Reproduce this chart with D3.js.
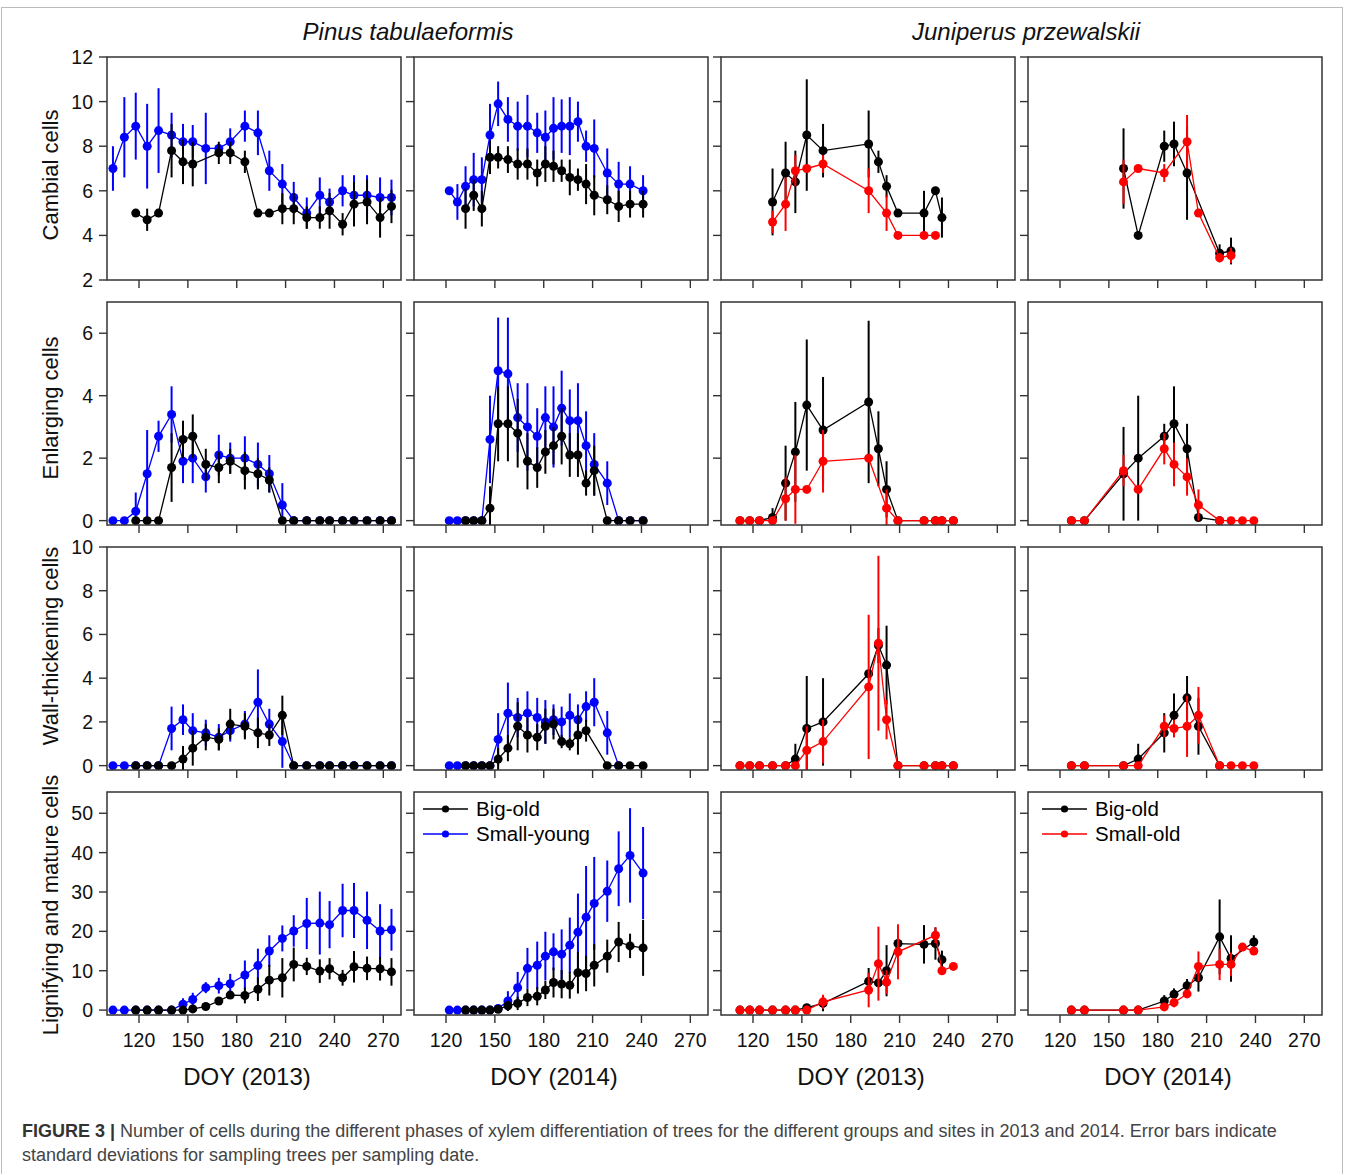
<!DOCTYPE html>
<html>
<head>
<meta charset="utf-8">
<script src="https://cdn.jsdelivr.net/npm/d3@7"></script>
<style>
  body { margin: 0; background: #fff; }
  text { font-family: "Liberation Sans", Arial, sans-serif; }
</style>
</head>
<body>
<svg id="chart" width="1357" height="1174"></svg>
<script>
// each row: [DOY, mean, sd]
// --- Cambial cells ---
var cambP13Big = [[118,5.0,0],[125,4.7,0.5],[132,5.0,0],[140,7.8,1.2],[147,7.3,1.0],[153,7.2,1.0],[169,7.7,0.5],[176,7.7,0.5],[185,7.3,0.5],[193,5.0,0],[200,5.0,0],[208,5.2,0.7],[215,5.2,0.7],[223,4.8,0.5],[231,4.8,0.5],[237,5.1,0.8],[245,4.5,0.5],[252,5.4,1.0],[260,5.5,1.0],[268,4.8,0.9],[275,5.3,0.75]];
var cambP13Small = [[104,7.0,1.0],[111,8.4,1.8],[118,8.9,1.5],[125,8.0,1.9],[132,8.7,1.9],[140,8.5,1.0],[147,8.2,0.8],[153,8.2,0.75],[161,7.9,1.6],[169,7.9,0.2],[176,8.2,0.6],[185,8.9,0.7],[193,8.6,1.0],[200,6.9,0.9],[208,6.3,0.9],[215,5.7,0.7],[223,5.0,0.7],[231,5.8,0.8],[237,5.5,0.6],[245,6.0,0.7],[252,5.8,0.9],[260,5.8,0.9],[268,5.7,0.9],[275,5.7,0.8]];
var cambP14Big = [[132,5.2,0.9],[137,5.8,0.7],[142,5.2,0.8],[147,7.5,0.75],[152,7.5,0.5],[158,7.4,0.6],[164,7.2,0.7],[170,7.2,0.7],[176,6.8,0.6],[181,7.2,0.8],[186,7.1,0.7],[191,6.9,0.5],[196,6.6,0.8],[201,6.5,0.5],[206,6.3,0.9],[211,5.8,0.9],[219,5.6,0.65],[226,5.3,0.7],[233,5.4,0.6],[241,5.4,0.6]];
var cambP14Small = [[122,6.0,0],[127,5.5,0.8],[132,6.2,0.9],[137,6.5,1.2],[142,6.5,1.0],[147,8.5,1.4],[152,9.9,1.0],[158,9.2,1.0],[164,8.9,1.1],[170,8.9,1.4],[176,8.6,0.9],[181,8.4,1.2],[186,8.8,1.4],[191,8.9,1.2],[196,8.9,1.3],[201,9.1,0.9],[206,8.0,0.7],[211,7.9,1.3],[219,6.8,1.1],[226,6.3,1.0],[233,6.3,0.8],[241,6.0,0.7]];
var cambJ13Big = [[132,5.5,1.5],[140,6.8,1.4],[146,6.4,1.4],[153,8.5,2.5],[163,7.8,1.2],[191,8.1,1.5],[197,7.3,0.5],[202,6.2,0.5],[209,5.0,0],[225,5.0,1.0],[232,6.0,0],[236,4.8,0.9]];
var cambJ13Small = [[132,4.6,0.5],[140,5.4,1.2],[146,6.9,0.7],[153,7.0,0],[163,7.2,0.4],[191,6.0,1.0],[202,5.0,0.8],[209,4.0,0],[225,4.0,0],[232,4.0,0]];
var cambJ14Big = [[159,7.0,1.8],[168,4.0,0],[184,8.0,0.7],[190,8.1,1.0],[198,6.8,2.1],[218,3.2,0.4],[225,3.3,0.6]];
var cambJ14Small = [[159,6.4,1.0],[168,7.0,0],[184,6.8,0.4],[198,8.2,1.2],[205,5.0,0],[218,3.0,0.2],[225,3.1,0.35]];

// --- Enlarging cells ---
var enlP13Big = [[118,0,0],[125,0,0],[132,0,0],[140,1.7,1.1],[147,2.6,0.6],[153,2.7,0.7],[161,1.8,0.5],[169,1.7,0.5],[176,1.9,0.4],[185,1.6,0.6],[193,1.5,0.5],[200,1.3,0.4],[208,0,0],[215,0,0],[223,0,0],[231,0,0],[237,0,0],[245,0,0],[252,0,0],[260,0,0],[268,0,0],[275,0,0]];
var enlP13Small = [[104,0,0],[111,0,0],[118,0.3,0.6],[125,1.5,1.4],[132,2.7,0.5],[140,3.4,0.9],[147,1.9,0.7],[153,2.0,0.8],[161,1.4,0.5],[169,2.1,0.65],[176,2.0,0.5],[185,2.0,0.7],[193,1.8,0.7],[200,1.5,0.6],[208,0.5,0.7],[215,0,0],[223,0,0],[231,0,0],[237,0,0],[245,0,0],[252,0,0],[260,0,0],[268,0,0],[275,0,0]];
var enlP14Big = [[132,0,0],[137,0,0],[142,0,0],[147,0.4,0.7],[152,3.1,1.2],[158,3.1,1.2],[164,2.8,1.1],[170,1.9,0.9],[176,1.7,0.65],[181,2.2,0.7],[186,2.4,0.6],[191,2.7,0.9],[196,2.1,0.7],[201,2.1,0.7],[206,1.2,0.4],[211,1.6,0.8],[219,0,0],[226,0,0],[233,0,0],[241,0,0]];
var enlP14Small = [[122,0,0],[127,0,0],[132,0,0],[137,0,0],[142,0,0],[147,2.6,1.4],[152,4.8,1.7],[158,4.7,1.8],[164,3.3,1.1],[170,3.0,1.4],[176,2.7,0.9],[181,3.3,1.0],[186,3.0,1.3],[191,3.6,1.2],[196,3.2,1.0],[201,3.2,1.2],[206,2.4,1.1],[211,1.8,1.0],[219,1.2,0.7],[226,0,0],[233,0,0],[241,0,0]];
var enlJ13Big = [[112,0,0],[118,0,0],[124,0,0],[132,0.1,0.3],[140,1.2,1.2],[146,2.2,1.6],[153,3.7,2.1],[163,2.9,1.7],[191,3.8,2.6],[197,2.3,1.2],[202,1.0,0.9],[209,0,0],[225,0,0],[232,0,0],[236,0,0],[243,0,0]];
var enlJ13Small = [[112,0,0],[118,0,0],[124,0,0],[132,0,0],[140,0.7,0.7],[146,1.0,1.1],[153,1.0,0],[163,1.9,1.0],[191,2.0,0],[202,0.4,0.6],[209,0,0],[225,0,0],[232,0,0],[236,0,0],[243,0,0]];
var enlJ14Big = [[127,0,0],[135,0,0],[159,1.5,1.5],[168,2.0,2.0],[184,2.7,0.4],[190,3.1,1.2],[198,2.3,0.8],[205,0.1,0],[218,0,0]];
var enlJ14Small = [[127,0,0],[135,0,0],[159,1.6,0.5],[168,1.0,0],[184,2.3,0.5],[190,1.8,0.7],[198,1.4,0.6],[205,0.5,0.5],[218,0,0],[225,0,0],[232,0,0],[239,0,0]];

// --- Wall-thickening cells ---
var wallP13Big = [[118,0,0],[125,0,0],[132,0,0],[140,0,0],[147,0.3,0.6],[153,0.8,0.8],[161,1.3,0.6],[169,1.2,0.5],[176,1.9,0.7],[185,1.8,0.6],[193,1.5,0.7],[200,1.4,0.5],[208,2.3,0.9],[215,0,0],[223,0,0],[231,0,0],[237,0,0],[245,0,0],[252,0,0],[260,0,0],[268,0,0],[275,0,0]];
var wallP13Small = [[104,0,0],[111,0,0],[118,0,0],[125,0,0],[132,0,0],[140,1.7,1.0],[147,2.1,0.7],[153,1.6,0.8],[161,1.5,0.6],[169,1.3,0.6],[176,1.6,0.5],[185,1.9,0.6],[193,2.9,1.5],[200,1.9,0.7],[208,1.1,1.2],[215,0,0],[223,0,0],[231,0,0],[237,0,0],[245,0,0],[252,0,0],[260,0,0],[268,0,0],[275,0,0]];
var wallP14Big = [[132,0,0],[137,0,0],[142,0,0],[147,0,0],[152,0.3,0.5],[158,0.8,0.6],[164,1.8,1.1],[170,1.4,0.8],[176,1.3,0.6],[181,1.8,0.8],[186,1.9,0.7],[191,1.1,0.3],[196,1.0,0.3],[201,1.4,0.9],[206,1.6,0.5],[219,0,0],[226,0,0],[233,0,0],[241,0,0]];
var wallP14Small = [[122,0,0],[127,0,0],[132,0,0],[137,0,0],[142,0,0],[147,0,0],[152,1.2,1.2],[158,2.4,1.4],[164,2.2,0.9],[170,2.4,1.0],[176,2.2,0.9],[181,2.0,1.0],[186,2.1,0.7],[191,2.0,0.7],[196,2.3,1.0],[201,2.1,0.7],[206,2.7,0.7],[211,2.9,1.1],[219,1.5,1.0],[226,0,0]];
var wallJ13Big = [[112,0,0],[118,0,0],[124,0,0],[132,0,0],[140,0,0],[146,0.3,0.7],[153,1.7,2.4],[163,2.0,2.0],[191,4.2,0],[197,5.5,0.8],[202,4.6,1.8],[209,0,0],[225,0,0],[232,0,0],[236,0,0],[243,0,0]];
var wallJ13Small = [[112,0,0],[118,0,0],[124,0,0],[132,0,0],[140,0,0],[146,0,0],[153,0.7,1.1],[163,1.1,1.0],[191,3.6,3.3],[197,5.6,4.0],[202,2.1,0.9],[209,0,0],[225,0,0],[232,0,0],[236,0,0],[243,0,0]];
var wallJ14Big = [[127,0,0],[135,0,0],[159,0,0],[168,0.3,0.7],[184,1.5,0.9],[190,2.3,1.0],[198,3.1,1.0],[205,1.8,1.3],[218,0,0]];
var wallJ14Small = [[127,0,0],[135,0,0],[159,0,0],[168,0,0],[184,1.8,0.5],[190,1.7,0.4],[198,1.8,1.4],[205,2.3,1.3],[218,0,0],[225,0,0],[232,0,0],[239,0,0]];

// --- Lignifying and mature cells ---
var ligP13Big = [[118,0,0],[125,0,0],[132,0,0],[140,0,0],[147,0,0],[153,0.3,0],[161,0.9,0],[169,2.3,0.8],[176,3.8,0.8],[185,3.7,2.0],[193,5.3,3.0],[200,7.6,3.9],[208,8.2,5.0],[215,11.6,4.3],[223,11.1,2.2],[231,9.9,3.0],[237,10.5,2.7],[245,8.2,2.0],[252,11.0,4.0],[260,10.6,3.0],[268,10.5,3.0],[275,9.7,3.5]];
var ligP13Small = [[104,0,0],[111,0,0],[118,0,0],[125,0,0],[132,0,0],[140,0,0],[147,1.5,1.5],[153,2.7,1.7],[161,5.7,1.4],[169,6.2,2.0],[176,6.7,2.5],[185,8.9,3.7],[193,11.3,4.3],[200,15.0,4.0],[208,18.2,3.3],[215,20.1,4.0],[223,22.0,6.5],[231,22.1,8.0],[237,21.7,6.0],[245,25.3,6.8],[252,25.3,7.0],[260,22.8,7.3],[268,20.1,6.8],[275,20.4,5.3]];
var ligP14Big = [[132,0,0],[137,0,0],[142,0,0],[147,0,0],[152,0.2,0],[158,1.1,1.3],[164,1.7,1.7],[170,3.2,2.2],[176,3.5,2.3],[181,5.1,2.3],[186,7.0,3.8],[191,6.6,3.6],[196,6.3,3.4],[201,9.5,5.3],[206,9.3,4.5],[211,11.4,5.4],[219,13.7,4.2],[226,17.3,5.1],[233,16.3,3.1],[241,15.8,7.1]];
var ligP14Small = [[122,0,0],[127,0,0],[132,0,0],[137,0,0],[142,0,0],[147,0,0],[152,0.4,0],[158,2.3,2.5],[164,5.7,4.0],[170,10.6,5.2],[176,11.4,6.0],[181,13.7,6.2],[186,14.8,4.7],[191,14.2,6.3],[196,16.5,7.0],[201,19.8,9.8],[206,23.6,13.0],[211,27.1,11.8],[219,30.2,7.8],[226,35.9,9.5],[233,39.3,12.0],[241,34.8,11.7]];
var ligJ13Big = [[112,0,0],[118,0,0],[124,0,0],[132,0,0],[140,0,0],[146,0,0],[153,0.6,0.5],[163,1.7,2.0],[191,7.3,3.4],[197,6.9,0],[202,10.0,6.5],[209,16.9,0],[225,16.7,4.9],[232,16.9,4.1],[236,12.8,2.3]];
var ligJ13Small = [[112,0,0],[118,0,0],[124,0,0],[132,0,0],[140,0,0],[146,0,0],[153,0,0],[163,2.1,1.8],[191,5.1,4.4],[197,11.8,9.4],[202,7.1,3.0],[209,14.8,7.0],[232,19.0,2.0],[236,10.0,0],[243,11.1,0]];
var ligJ14Big = [[127,0,0],[135,0,0],[159,0,0],[168,0,0],[184,2.3,1.5],[190,4.0,1.5],[198,6.2,1.7],[205,8.2,3.5],[218,18.6,9.5],[225,13.1,5.9],[239,17.3,1.7]];
var ligJ14Small = [[127,0,0],[135,0,0],[159,0,0],[168,0,0],[184,0.8,0.6],[190,1.9,1.2],[198,4.1,1.0],[205,11.1,3.8],[218,11.6,4.0],[225,11.6,3.0],[232,16.0,0],[239,15.0,0]];

var rowTitles = ['Cambial cells', 'Enlarging cells', 'Wall-thickening cells', 'Lignifying and mature cells'];
var rowDomains = [[2, 12], [-0.14, 7.0], [-0.2, 10], [-1.25, 55.4]];
var rowTicks = [[2, 4, 6, 8, 10, 12], [0, 2, 4, 6], [0, 2, 4, 6, 8, 10], [0, 10, 20, 30, 40, 50]];
var xTicks = [120, 150, 180, 210, 240, 270];
var colYears = ['DOY (2013)', 'DOY (2014)', 'DOY (2013)', 'DOY (2014)'];
var species = ['Pinus tabulaeformis', 'Juniperus przewalskii'];
var legendPinus = ['Big-old', 'Small-young'];
var legendJuniperus = ['Big-old', 'Small-old'];

var series = [
  [[cambP13Big, cambP13Small], [cambP14Big, cambP14Small], [cambJ13Big, cambJ13Small], [cambJ14Big, cambJ14Small]],
  [[enlP13Big, enlP13Small], [enlP14Big, enlP14Small], [enlJ13Big, enlJ13Small], [enlJ14Big, enlJ14Small]],
  [[wallP13Big, wallP13Small], [wallP14Big, wallP14Small], [wallJ13Big, wallJ13Small], [wallJ14Big, wallJ14Small]],
  [[ligP13Big, ligP13Small], [ligP14Big, ligP14Small], [ligJ13Big, ligJ13Small], [ligJ14Big, ligJ14Small]]
];

var svg = d3.select('#chart');
var colLeft = [107, 414, 721, 1028];
var rowTop = [57, 302, 547, 792];
var panelW = 294, panelH = 223;
var tickLen = 8;
var axisColor = '#333';
// blue for Pinus columns, red for Juniperus columns
var smallColor = ['#0000ff', '#0000ff', '#ff0000', '#ff0000'];
var titleY = [175, 408, 646, 905];

var x = d3.scaleLinear().domain([100.35, 280.85]).range([0, panelW]);

// thin figure frame
svg.append('rect')
  .attr('x', 1.5).attr('y', 7.5)
  .attr('width', 1341).attr('height', 1200)
  .attr('fill', 'none')
  .attr('stroke', '#bbb').attr('stroke-width', 1);

function drawSeries(g, data, y, color) {
  var line = d3.line()
    .x(function(d) { return x(d[0]); })
    .y(function(d) { return y(d[1]); });
  g.append('path')
    .datum(data)
    .attr('d', line)
    .attr('fill', 'none')
    .attr('stroke', color)
    .attr('stroke-width', 1.3);
  g.selectAll(null)
    .data(data.filter(function(d) { return d[2] > 0; }))
    .enter().append('line')
    .attr('x1', function(d) { return x(d[0]); })
    .attr('x2', function(d) { return x(d[0]); })
    .attr('y1', function(d) { return y(d[1] - d[2]); })
    .attr('y2', function(d) { return y(d[1] + d[2]); })
    .attr('stroke', color)
    .attr('stroke-width', 2);
  g.selectAll(null)
    .data(data)
    .enter().append('circle')
    .attr('cx', function(d) { return x(d[0]); })
    .attr('cy', function(d) { return y(d[1]); })
    .attr('r', 4.5)
    .attr('fill', color);
}

function drawLegend(g, labels, color, dx) {
  var colors = ['#000', color];
  labels.forEach(function(label, i) {
    var yy = 17 + i * 25;
    g.append('line')
      .attr('x1', dx).attr('x2', dx + 45)
      .attr('y1', yy).attr('y2', yy)
      .attr('stroke', colors[i]).attr('stroke-width', 1.3);
    g.append('circle')
      .attr('cx', dx + 22.5).attr('cy', yy).attr('r', 3.6)
      .attr('fill', colors[i]);
    g.append('text')
      .attr('x', dx + 53).attr('y', yy + 7)
      .attr('font-size', 20.5)
      .attr('fill', '#000')
      .text(label);
  });
}

for (var r = 0; r < 4; r++) {
  var y = d3.scaleLinear().domain(rowDomains[r]).range([panelH, 0]);
  for (var c = 0; c < 4; c++) {
    var g = svg.append('g').attr('transform', 'translate(' + colLeft[c] + ',' + rowTop[r] + ')');
    var clipId = 'clip-' + r + '-' + c;
    g.append('clipPath').attr('id', clipId)
      .append('rect').attr('width', panelW).attr('height', panelH);

    // y ticks
    g.selectAll(null).data(rowTicks[r]).enter().append('line')
      .attr('x1', -tickLen).attr('x2', 0)
      .attr('y1', function(d) { return y(d); })
      .attr('y2', function(d) { return y(d); })
      .attr('stroke', axisColor).attr('stroke-width', 1.4);
    if (c === 0) {
      g.selectAll(null).data(rowTicks[r]).enter().append('text')
        .attr('x', -14)
        .attr('y', function(d) { return y(d) + 7; })
        .attr('text-anchor', 'end')
        .attr('font-size', 19.5)
        .attr('fill', '#111')
        .text(function(d) { return d; });
    }
    // x ticks
    g.selectAll(null).data(xTicks).enter().append('line')
      .attr('x1', function(d) { return x(d); })
      .attr('x2', function(d) { return x(d); })
      .attr('y1', panelH).attr('y2', panelH + tickLen)
      .attr('stroke', axisColor).attr('stroke-width', 1.4);
    if (r === 3) {
      g.selectAll(null).data(xTicks).enter().append('text')
        .attr('x', function(d) { return x(d); })
        .attr('y', panelH + 32)
        .attr('text-anchor', 'middle')
        .attr('font-size', 19.5)
        .attr('fill', '#111')
        .text(function(d) { return d; });
    }

    var plot = g.append('g').attr('clip-path', 'url(#' + clipId + ')');
    var pair = series[r][c];
    if (c < 2) {
      drawSeries(plot, pair[1], y, smallColor[c]);
      drawSeries(plot, pair[0], y, '#000');
    } else {
      drawSeries(plot, pair[0], y, '#000');
      drawSeries(plot, pair[1], y, smallColor[c]);
    }

    g.append('rect')
      .attr('width', panelW).attr('height', panelH)
      .attr('fill', 'none')
      .attr('stroke', axisColor).attr('stroke-width', 1.5);

    if (r === 3 && c === 1) drawLegend(g, legendPinus, smallColor[1], 9);
    if (r === 3 && c === 3) drawLegend(g, legendJuniperus, smallColor[3], 14);
  }
  svg.append('text')
    .attr('transform', 'translate(58,' + titleY[r] + ') rotate(-90)')
    .attr('text-anchor', 'middle')
    .attr('font-size', 22)
    .attr('fill', '#111')
    .text(rowTitles[r]);
}

colYears.forEach(function(t, c) {
  svg.append('text')
    .attr('x', colLeft[c] + panelW / 2 - 7)
    .attr('y', 1085)
    .attr('text-anchor', 'middle')
    .attr('font-size', 24)
    .attr('fill', '#111')
    .text(t);
});

species.forEach(function(s, i) {
  svg.append('text')
    .attr('x', i === 0 ? 408 : 1026)
    .attr('y', 40)
    .attr('text-anchor', 'middle')
    .attr('font-size', 24)
    .attr('font-style', 'italic')
    .attr('fill', '#111')
    .text(s);
});

// caption
var cap = svg.append('text').attr('x', 22).attr('y', 1137).attr('font-size', 18).attr('fill', '#444');
cap.append('tspan').attr('font-weight', 'bold').attr('fill', '#333').text('FIGURE 3 | ');
cap.append('tspan').text('Number of cells during the different phases of xylem differentiation of trees for the different groups and sites in 2013 and 2014. Error bars indicate');
svg.append('text').attr('x', 22).attr('y', 1161).attr('font-size', 18).attr('fill', '#444')
  .text('standard deviations for sampling trees per sampling date.');
</script>
</body>
</html>
